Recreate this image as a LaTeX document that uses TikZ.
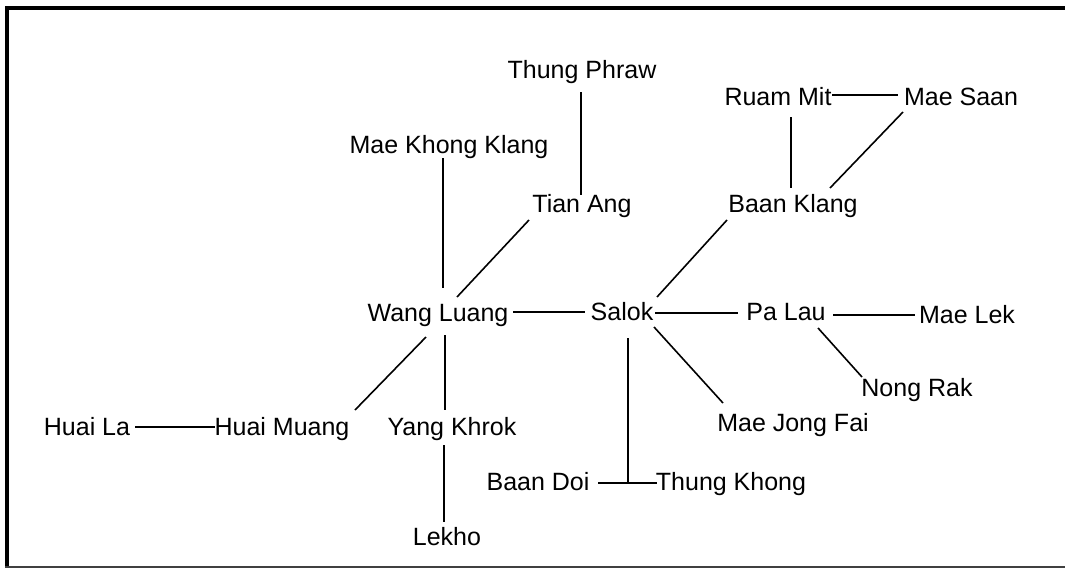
\documentclass[tikz,border=0pt]{standalone}
\usepackage{fontspec}
\setmainfont{Liberation Sans}
\begin{document}
\begin{tikzpicture}[x=1pt,y=-1pt,
  town/.style={inner sep=0pt, anchor=base, font=\fontsize{25}{30}\selectfont},
  link/.style={line width=1.6pt, black},
  frame/.style={line width=4.5pt, black}]
\useasboundingbox (0,0) rectangle (1065,568);
% frame
\draw[frame] (5,8) -- (1065,8);
\draw[frame] (7,6) -- (7,566);
\draw[line width=2pt, black!75] (5,566.5) -- (1065,566.5);
% villages
\node[town] (TP)  at (582,78)  {Thung Phraw};
\node[town] (MKK) at (449,153) {Mae Khong Klang};
\node[town] (TA)  at (582,212) {Tian Ang};
\node[town] (BK)  at (793,212) {Baan Klang};
\node[town] (RM)  at (778,105) {Ruam Mit};
\node[town] (MS)  at (961,105) {Mae Saan};
\node[town] (WL)  at (438,321) {Wang Luang};
\node[town] (SA)  at (622,320) {Salok};
\node[town] (PL)  at (786,320) {Pa Lau};
\node[town] (ML)  at (967,323) {Mae Lek};
\node[town] (NR)  at (917,396) {Nong Rak};
\node[town] (MJF) at (793,431) {Mae Jong Fai};
\node[town] (BD)  at (538,490) {Baan Doi};
\node[town] (TK)  at (731,490) {Thung Khong};
\node[town] (HL)  at (87,435)  {Huai La};
\node[town] (HM)  at (282,435) {Huai Muang};
\node[town] (YK)  at (452,435) {Yang Khrok};
\node[town] (LE)  at (447,545) {Lekho};
% connectors
\draw[link] ([shift={(-1,14)}]TP.base) -- ([shift={(-1,-17)}]TA.base);
\draw[link] ([shift={(-6,5)}]MKK.base) -- ([shift={(5,-33)}]WL.base);
\draw[link] ([shift={(-53,8)}]TA.base) -- ([shift={(19,-24)}]WL.base);
\draw[link] ([shift={(75,-9)}]WL.base) -- ([shift={(-37,-8)}]SA.base);
\draw[link] ([shift={(35,-23)}]SA.base) -- ([shift={(-66,8)}]BK.base);
\draw[link] ([shift={(13,12)}]RM.base) -- ([shift={(-2,-24)}]BK.base);
\draw[link] ([shift={(54,-10)}]RM.base) -- ([shift={(-63,-10)}]MS.base);
\draw[link] ([shift={(37,-24)}]BK.base) -- ([shift={(-58,7)}]MS.base);
\draw[link] ([shift={(33,-7)}]SA.base) -- ([shift={(-48,-7)}]PL.base);
\draw[link] ([shift={(47,-5)}]PL.base) -- ([shift={(-52,-8)}]ML.base);
\draw[link] ([shift={(32,8)}]PL.base) -- ([shift={(-55,-19)}]NR.base);
\draw[link] ([shift={(32,7)}]SA.base) -- ([shift={(-70,-28)}]MJF.base);
\coordinate (bdR) at ([shift={(60,-7)}]BD.base);
\coordinate (tkL) at ([shift={(-74,-7)}]TK.base);
\coordinate (saB) at ([shift={(6,18)}]SA.base);
\coordinate (J) at (saB |- bdR);
\draw[link] (bdR) -- (tkL);
\draw[link] (saB) -- (J);
\draw[link] ([shift={(-12,16)}]WL.base) -- ([shift={(73,-25)}]HM.base);
\draw[link] ([shift={(48,-8)}]HL.base) -- ([shift={(-67,-8)}]HM.base);
\draw[link] ([shift={(7,14)}]WL.base) -- ([shift={(-7,-25)}]YK.base);
\draw[link] ([shift={(-8,10)}]YK.base) -- ([shift={(-3,-23)}]LE.base);
\end{tikzpicture}
\end{document}
